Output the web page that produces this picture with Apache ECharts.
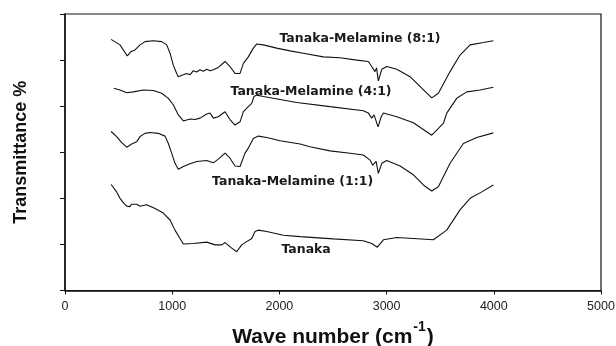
<!DOCTYPE html>
<html>
<head>
<meta charset="utf-8">
<script src="https://cdn.jsdelivr.net/npm/echarts@6/dist/echarts.min.js"></script>
<style>
html,body{margin:0;padding:0;background:#fff;}
#chart{width:616px;height:346px;}
</style>
</head>
<body>
<div id="chart"></div>
<script>
// Tick values of the x axis (wave number, cm-1)
var xTicks = [0, 1000, 2000, 3000, 4000, 5000];

// Curve names
var names = ['Tanaka-Melamine (8:1)', 'Tanaka-Melamine (4:1)', 'Tanaka-Melamine (1:1)', 'Tanaka'];

// Tanaka-Melamine (8:1)
var wn81 = [430,513,581,613,653,700,746,824,902,949,980,1010,1042,1057,1104,1135,1166,1197,1229,1260,1290,1322,1353,1384,1430,1493,1539,1586,1633,1664,1710,1757,1789,1850,1975,2099,2223,2410,2566,2722,2830,2861,2892,2906,2923,2955,3001,3095,3219,3328,3421,3483,3592,3685,3779,3903,3996];
var t81  = [5.45,5.33,5.09,5.18,5.22,5.33,5.40,5.42,5.40,5.33,5.15,4.89,4.71,4.64,4.68,4.71,4.68,4.77,4.74,4.79,4.76,4.80,4.77,4.79,4.84,4.97,4.86,4.71,4.71,4.93,5.07,5.26,5.35,5.33,5.26,5.20,5.15,5.07,5.05,5.00,4.97,4.86,4.75,4.83,4.55,4.80,4.86,4.80,4.64,4.39,4.18,4.28,4.75,5.11,5.33,5.38,5.42];

// Tanaka-Melamine (4:1)
var wn41 = [455,513,576,637,731,824,902,964,1010,1057,1104,1166,1213,1260,1322,1353,1384,1430,1493,1539,1586,1633,1664,1710,1742,1763,1789,1850,2162,2472,2783,2830,2861,2883,2920,2950,2970,3095,3250,3421,3468,3530,3561,3654,3748,3872,3996];
var t41  = [4.39,4.35,4.29,4.31,4.35,4.34,4.28,4.17,4.03,3.81,3.68,3.72,3.71,3.74,3.83,3.85,3.74,3.77,3.88,3.71,3.59,3.66,3.88,3.99,4.06,4.21,4.24,4.21,4.08,3.99,3.90,3.85,3.74,3.81,3.55,3.77,3.85,3.77,3.64,3.37,3.48,3.63,3.85,4.17,4.31,4.35,4.41];

// Tanaka-Melamine (1:1)
var wn11 = [430,482,529,576,622,669,700,746,793,870,933,964,995,1026,1057,1104,1166,1229,1322,1384,1430,1493,1539,1586,1633,1679,1710,1757,1803,1882,2006,2193,2286,2472,2659,2783,2846,2871,2902,2923,2955,3001,3126,3250,3343,3421,3483,3592,3716,3841,3996];
var t11  = [3.45,3.34,3.21,3.11,3.18,3.23,3.34,3.41,3.43,3.41,3.35,3.19,2.98,2.76,2.63,2.69,2.75,2.80,2.82,2.77,2.85,2.98,2.87,2.70,2.69,2.98,3.09,3.30,3.35,3.32,3.25,3.18,3.12,3.03,2.98,2.94,2.83,2.72,2.80,2.54,2.76,2.82,2.70,2.51,2.29,2.16,2.25,2.76,3.19,3.32,3.42];

// Tanaka
var wnT = [430,482,513,550,576,606,620,637,669,700,762,840,917,980,1026,1073,1104,1197,1322,1400,1462,1493,1555,1602,1648,1695,1742,1757,1773,1803,1882,2037,2193,2503,2783,2861,2914,2970,3095,3250,3436,3561,3685,3779,3888,3996];
var tT  = [2.30,2.14,2.00,1.89,1.83,1.82,1.87,1.83,1.87,1.83,1.86,1.78,1.68,1.53,1.31,1.13,1.01,1.02,1.05,0.99,0.99,1.04,0.92,0.84,0.99,1.06,1.13,1.10,1.28,1.31,1.28,1.20,1.17,1.12,1.08,1.02,0.94,1.10,1.15,1.13,1.10,1.31,1.75,2.00,2.14,2.29];

// Label anchor positions (data coordinates)
var labelWn = [2752, 2295, 2123, 2249];
var labelT  = [5.46, 4.32, 2.35, 0.88];

function zip(a, b) { return a.map(function (v, i) { return [v, b[i]]; }); }

var xs = [wn81, wn41, wn11, wnT];
var ys = [t81, t41, t11, tT];

var series = names.map(function (n, i) {
  return {
    name: n,
    type: 'line',
    data: zip(xs[i], ys[i]),
    showSymbol: false,
    symbol: 'none',
    lineStyle: { color: '#111', width: 1.1 },
    silent: true,
    markPoint: {
      symbol: 'rect',
      symbolSize: 1,
      itemStyle: { color: 'rgba(0,0,0,0)' },
      silent: true,
      label: {
        show: true,
        position: 'inside',
        formatter: n,
        color: '#1a1a1a',
        fontFamily: 'DejaVu Sans',
        fontWeight: 'bold',
        fontSize: 12.5
      },
      data: [{ coord: [labelWn[i], labelT[i]] }]
    }
  };
});

var chart = echarts.init(document.getElementById('chart'), null, { renderer: 'canvas' });
chart.setOption({
  animation: false,
  backgroundColor: '#fff',
  grid: {
    left: 65, right: 15, top: 14, bottom: 55.5,
    outerBoundsMode: 'none',
    containLabel: false,
    show: true, borderColor: '#111', borderWidth: 1.2, backgroundColor: 'transparent'
  },
  xAxis: {
    type: 'value',
    min: xTicks[0], max: xTicks[xTicks.length - 1], interval: 1000,
    splitLine: { show: false },
    axisLine: { show: true, onZero: false, lineStyle: { color: '#111', width: 1.5 } },
    axisTick: { show: true, length: 4, lineStyle: { color: '#111', width: 1 } },
    axisLabel: {
      color: '#222', fontFamily: 'Liberation Sans', fontSize: 12.5, margin: 10,
      formatter: function (v) { return String(v); }
    },
    name: '{a|Wave number (cm}{s|-1}{a|)}',
    nameLocation: 'middle',
    nameGap: 30,
    nameTextStyle: {
      rich: {
        a: { fontFamily: 'Liberation Sans', fontWeight: 'bold', fontSize: 21, color: '#111', lineHeight: 27, verticalAlign: 'bottom' },
        s: { fontFamily: 'Liberation Sans', fontWeight: 'bold', fontSize: 14, color: '#111', lineHeight: 27, verticalAlign: 'top', padding: [0, 1, 0, 1] }
      }
    }
  },
  yAxis: {
    type: 'value',
    min: 0, max: 6, interval: 1,
    splitLine: { show: false },
    axisLine: { show: true, onZero: false, lineStyle: { color: '#111', width: 1.5 } },
    axisTick: { show: true, length: 5, lineStyle: { color: '#111', width: 1 } },
    axisLabel: { show: false },
    name: 'Transmittance %',
    nameLocation: 'middle',
    nameGap: 35,
    nameTextStyle: { fontFamily: 'Liberation Sans', fontWeight: 'bold', fontSize: 18, color: '#111' }
  },
  series: series
});
</script>
</body>
</html>
